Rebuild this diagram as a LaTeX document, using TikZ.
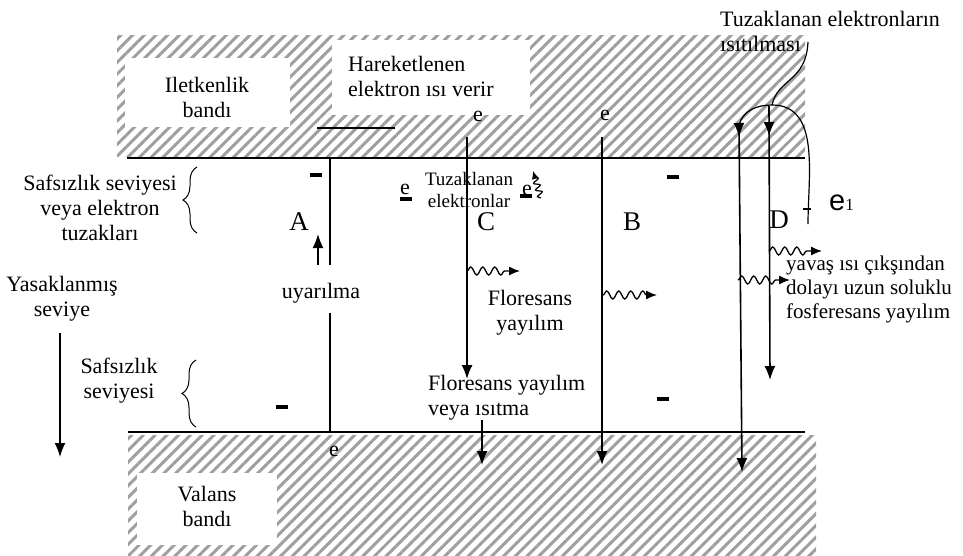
\documentclass[tikz,border=0pt]{standalone}
\usepackage{fontspec}
\setmainfont{Liberation Serif}
\setsansfont{Liberation Sans}
\usetikzlibrary{
  arrows.meta,
  patterns.meta,            % band hatching
  decorations.pathmorphing, % wavy emission arrows
  decorations.pathreplacing,% braces
  decorations.markings      % arrow heads inside a path
}

\begin{document}
\begin{tikzpicture}[x=1pt, y=-1pt,
    every node/.style={font=\fontsize{22}{25}\selectfont, inner sep=0pt},
    band/.style={pattern={Lines[angle=45, distance=8.3pt, line width=3pt]}, pattern color=gray!75},
    gap/.style={fill=white},
    level/.style={line width=1.6pt},
    jump/.style={line width=1.6pt, -{Latex[length=14pt, width=11pt]}},
    wave/.style={line width=1.3pt, -{Latex[length=11pt, width=9pt]}, decorate,
      decoration={snake, amplitude=4pt, segment length=12pt, post length=10pt}},
    minus/.style={fill=black, minimum width=12pt, minimum height=3.5pt, inner sep=0pt},
    lbl/.style={font=\fontsize{27}{27}\selectfont},
    small/.style={font=\fontsize{19}{22}\selectfont},
    curly/.style={decorate, decoration={brace, amplitude=14pt}, line width=1pt},
    topmark/.style={postaction={decorate},
      decoration={markings, mark=at position #1 with {\arrow{Latex[length=14pt, width=11pt]}}}}
  ]
  \useasboundingbox (0,0) rectangle (963,555);

  % conduction and valence bands
  \fill[band] (117,35) rectangle (805,156);
  \fill[gap] (125,58) rectangle (290,127);
  \fill[gap] (332,40) rectangle (530,115);
  \fill[band] (128,435) rectangle (816,555);
  \fill[gap] (137,473) rectangle (277,545);
  \draw[level] (127,158) -- (805,158);
  \draw[level] (128,432) -- (805,432);
  \draw[level] (317,128) -- (395,128);

  \node[align=center] (cband) at (207,97) {Iletkenlik\\bandı};
  \node[align=left, anchor=west] (moving) at (348,76) {Hareketlenen\\elektron ısı verir};
  \node[align=center] (vband) at (207,506) {Valans\\bandı};

  % left side labels
  \node[align=center] (traps) at (100,208) {Safsızlık seviyesi\\veya elektron\\tuzakları};
  \draw[curly] (197,233) -- (197,167);
  \node[align=center] (forbidden) at (62,299) {Yasaklanmış\\seviye};
  \coordinate (fTop) at (60,333);
  \coordinate (fBot) at (60,457);
  \draw[jump] (fTop) -- (fBot);
  \node[align=center] (impurity) at (119,381) {Safsızlık\\seviyesi};
  \draw[curly] (196,427) -- (196,360);

  % A
  \node[minus] (mA1) at (316,175) {};
  \node[lbl] (A) at (299,222) {A};
  \node (excite) at (321,293) {uyarılma};
  \node[minus] (mA2) at (282,407) {};
  \node (eA) at (334,451) {e};
  \coordinate (aTop) at (330,158);
  \coordinate (aMid) at (330,265);
  \coordinate (aLow) at (330,313);
  \coordinate (aBot) at (330,432);
  \draw[level] (aTop) -- (aMid);
  \draw[level] (aLow) -- (aBot);
  \coordinate (upBot) at (318,265);
  \coordinate (upTop) at (318,234);
  \draw[jump] (upBot) -- (upTop);

  % C
  \node (eT1) at (405,189) {e};
  \node[minus] (mT1) at (406,199) {};
  \node[small, align=center] (trapped) at (469,190) {Tuzaklanan\\elektronlar};
  \node (eT2) at (527,190) {e};
  \node[minus] (mT2) at (526,196) {};
  \coordinate (sqBot) at (541,198);
  \coordinate (sqTop) at (533,171);
  \draw[line width=1.2pt, -{Latex[length=8pt, width=7pt]}, decorate,
    decoration={snake, amplitude=3pt, segment length=7pt, post length=6pt}] (sqBot) -- (sqTop);
  \node (eC) at (478,116) {e};
  \coordinate (cTop) at (467,137);
  \coordinate (cBot) at (467,379);
  \draw[jump] (cTop) -- (cBot);
  \node[lbl] (C) at (486,222) {C};
  \coordinate (wC1) at (467,271);
  \coordinate (wC2) at (520,271);
  \draw[wave] (wC1) -- (wC2);
  \node[align=center] (fluoC) at (530,313) {Floresans\\yayılım};
  \node[align=left, anchor=west] (fluoHeat) at (428,398) {Floresans yayılım\\veya ısıtma};
  \coordinate (hTop) at (482,420);
  \coordinate (hBot) at (482,465);
  \draw[jump] (hTop) -- (hBot);

  % B
  \node (eB) at (605,115) {e};
  \coordinate (bTop) at (602,137);
  \coordinate (bBot) at (602,465);
  \draw[jump] (bTop) -- (bBot);
  \node[lbl] (B) at (632,222) {B};
  \node[minus] (mB1) at (673,177) {};
  \coordinate (wB1) at (603,295);
  \coordinate (wB2) at (657,295);
  \draw[wave] (wB1) -- (wB2);
  \node[minus] (mB2) at (663,399) {};

  % D
  \node[align=left, anchor=west] (heating) at (720,31) {Tuzaklanan elektronların\\ısıtılması};
  \coordinate (d1Top) at (739,125);
  \coordinate (d1Bot) at (742,472);
  \coordinate (d2Top) at (769,106);
  \coordinate (d2Bot) at (770,380);
  \coordinate (peak) at (772,105);
  \coordinate (escape) at (808,224);
  \draw[line width=1.2pt] (d1Top) to[out=75, in=180] (peak) to[out=0, in=90] (escape);
  \node[minus, minimum width=8pt, minimum height=2.5pt] (mD) at (807,209) {};
  \draw[jump, topmark=12pt] (d1Top) -- (d1Bot);
  \draw[jump, topmark=30pt] (d2Top) -- (d2Bot);
  \coordinate (callout) at (808,42);
  \draw[line width=1.2pt] (callout) .. controls (806,82) and (778,78) .. (peak);
  \node[anchor=west] (eOne) at (829,203) {{\sffamily\fontsize{29}{29}\selectfont e}{\fontsize{17}{17}\selectfont 1}};
  \node[lbl] (D) at (779,220) {D};
  \coordinate (wD1) at (769,251);
  \coordinate (wD2) at (822,251);
  \draw[wave] (wD1) -- (wD2);
  \coordinate (wD3) at (738,280);
  \coordinate (wD4) at (790,280);
  \draw[wave] (wD3) -- (wD4);
  \node[align=left, anchor=west, font=\fontsize{21}{24}\selectfont] (slow) at (786,289)
    {yavaş ısı çıkşından\\dolayı uzun soluklu\\fosferesans yayılım};
\end{tikzpicture}
\end{document}
